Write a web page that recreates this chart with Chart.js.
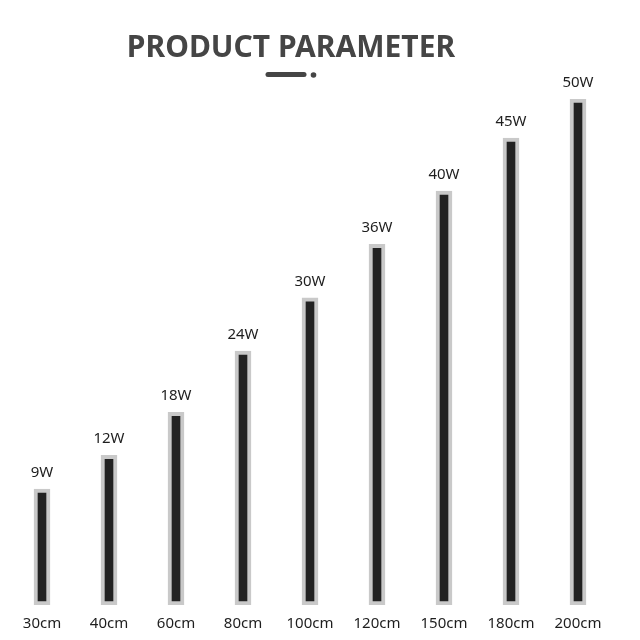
<!DOCTYPE html>
<html>
<head>
<meta charset="utf-8">
<script src="https://cdn.jsdelivr.net/npm/chart.js@4"></script>
<style>
  html, body { margin: 0; padding: 0; background: #ffffff; }
  #wrap { width: 640px; height: 640px; position: relative; }
</style>
</head>
<body>
<div id="wrap"><canvas id="c" width="640" height="640"></canvas></div>
<script>
// ---- data ----
const categories = ['30cm', '40cm', '60cm', '80cm', '100cm', '120cm', '150cm', '180cm', '200cm'];
const powerWatts = [9, 12, 18, 24, 30, 36, 40, 45, 50];
// relative drawn bar heights (tallest bar = 100)
const barLevels = [22.9, 29.6, 38.1, 50.2, 60.7, 71.3, 81.8, 92.3, 100];
const titleText = 'PRODUCT PARAMETER';

const wattLabels = powerWatts.map(v => v + 'W');

const FONT = "'Noto Sans', 'Open Sans', sans-serif";

const decorPlugin = {
  id: 'decor',
  afterDraw(chart) {
    const ctx = chart.ctx;
    ctx.save();
    // title
    ctx.fillStyle = '#454545';
    ctx.font = "bold 30px " + FONT;
    ctx.textAlign = 'center';
    ctx.textBaseline = 'alphabetic';
    ctx.fillText(titleText, 291, 57);
    // underline decoration
    ctx.strokeStyle = '#454545';
    ctx.lineCap = 'round';
    ctx.lineWidth = 5;
    ctx.beginPath();
    ctx.moveTo(268, 74.5);
    ctx.lineTo(304, 74.5);
    ctx.stroke();
    ctx.fillStyle = '#454545';
    ctx.beginPath();
    ctx.arc(313.5, 75, 2.8, 0, Math.PI * 2);
    ctx.fill();
    // value labels above bars
    const meta = chart.getDatasetMeta(0);
    ctx.fillStyle = '#1e1e1e';
    ctx.font = "15px " + FONT;
    ctx.textAlign = 'center';
    ctx.textBaseline = 'middle';
    meta.data.forEach((bar, i) => {
      ctx.fillText(wattLabels[i], bar.x, bar.y - 16);
    });
    ctx.restore();
  }
};

new Chart(document.getElementById('c'), {
  type: 'bar',
  data: {
    labels: categories,
    datasets: [{
      data: barLevels,
      backgroundColor: '#222222',
      borderColor: '#c9c9c9',
      borderWidth: 4,
      borderSkipped: false,
      barThickness: 16
    }]
  },
  options: {
    responsive: false,
    animation: false,
    events: [],
    layout: { padding: { top: 99, left: 8.5, right: 28.5, bottom: 0 } },
    plugins: {
      legend: { display: false },
      tooltip: { enabled: false },
      title: { display: false }
    },
    scales: {
      x: {
        grid: { display: false, drawTicks: false },
        border: { display: false },
        ticks: {
          color: '#1e1e1e',
          font: { family: FONT, size: 15 },
          padding: 10
        },
        afterFit(scale) { scale.height = 35; }
      },
      y: {
        display: false,
        min: 0,
        max: 100
      }
    }
  },
  plugins: [decorPlugin]
});
</script>
</body>
</html>
